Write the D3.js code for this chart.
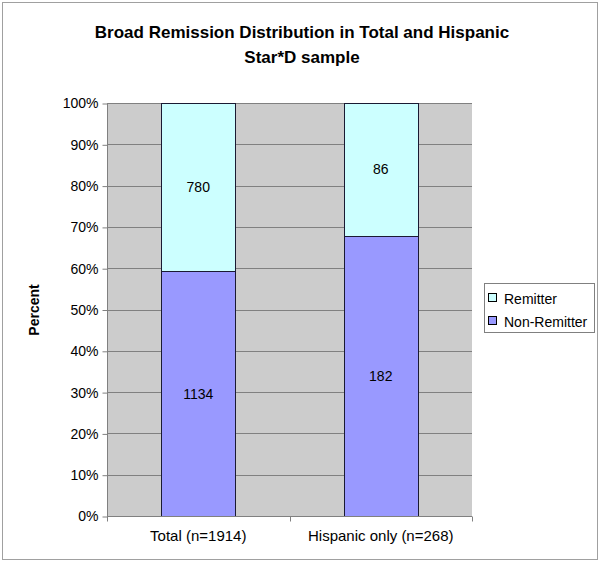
<!DOCTYPE html>
<html><head><meta charset="utf-8">
<script src="https://cdn.jsdelivr.net/npm/d3@7"></script>
<style>body{margin:0;background:#fff}svg{display:block}text{font-family:Arial,"Liberation Sans",sans-serif}</style>
</head><body>
<svg id="c" width="601" height="564"></svg>
<script>
const categories = ["Total (n=1914)", "Hispanic only (n=268)"];
const seriesNames = ["Non-Remitter", "Remitter"];
const nonRemitter = [1134, 182];
const remitter = [780, 86];
const yTicks = [0, 0.1, 0.2, 0.3, 0.4, 0.5, 0.6, 0.7, 0.8, 0.9, 1.0];
const colors = {"Non-Remitter": "#9999ff", "Remitter": "#ccffff"};

const svg = d3.select("#c");
svg.append("rect").attr("x", 2.5).attr("y", 2.5).attr("width", 595).attr("height", 557)
  .attr("fill", "#fff").attr("stroke", "#a0a0a0");

const L = 107, R = 472, T = 103, B = 516;
const x = d3.scaleBand().domain(categories).range([L, R]).paddingInner(0.595).paddingOuter(0.2975);
const y = d3.scaleLinear().domain([0, 1]).range([B, T]);

svg.append("rect").attr("x", L).attr("y", T).attr("width", R - L).attr("height", B - T).attr("fill", "#cccccc");
svg.append("g").selectAll("line").data(yTicks.filter(d => d > 0)).join("line")
  .attr("x1", L).attr("x2", R).attr("y1", d => Math.round(y(d)) + 0.5).attr("y2", d => Math.round(y(d)) + 0.5)
  .attr("stroke", "#808080");

const rows = categories.map((c, i) => ({cat: c, "Non-Remitter": nonRemitter[i], "Remitter": remitter[i]}));
const stack = d3.stack().keys(seriesNames).offset(d3.stackOffsetExpand)(rows);

stack.forEach(s => {
  const g = svg.append("g");
  g.selectAll("rect").data(s).join("rect")
    .attr("x", d => Math.round(x(d.data.cat)) + 0.5)
    .attr("width", Math.round(x.bandwidth()))
    .attr("y", d => Math.round(y(d[1])) + 0.5)
    .attr("height", d => Math.round(y(d[0])) - Math.round(y(d[1])))
    .attr("fill", colors[s.key]).attr("stroke", "#1a1a33").attr("stroke-width", 1);
  g.selectAll("text").data(s).join("text")
    .attr("x", d => x(d.data.cat) + x.bandwidth() / 2)
    .attr("y", d => (y(d[0]) + y(d[1])) / 2 + 5)
    .attr("text-anchor", "middle").attr("font-size", 14).attr("fill", "#000")
    .text(d => d.data[s.key]);
});

const yAxis = d3.axisLeft(y).tickValues(yTicks).tickFormat(d3.format(".0%")).tickSize(5).tickPadding(4);
const ga = svg.append("g").attr("transform", `translate(${L + 0.5},0.5)`).call(yAxis);
ga.selectAll("text").attr("font-size", 14).attr("fill", "#000").attr("font-family", "Arial,'Liberation Sans',sans-serif");
ga.selectAll("line").attr("stroke", "#808080");
ga.select(".domain").attr("stroke", "#808080").attr("d", `M0,${T}V${B}`);

const xAxis = d3.axisBottom(x).tickSize(0).tickPadding(14);
const gx = svg.append("g").attr("transform", `translate(0,${B + 0.5})`).call(xAxis);
gx.selectAll("text").attr("font-size", 15).attr("fill", "#000").attr("font-family", "Arial,'Liberation Sans',sans-serif");
gx.select(".domain").attr("stroke", "#808080").attr("d", `M${L},0H${R}`);
[L, (L + R) / 2, R].forEach(v => gx.append("line").attr("x1", Math.round(v) + 0.5).attr("x2", Math.round(v) + 0.5)
  .attr("y1", 0).attr("y2", 5).attr("stroke", "#808080"));

svg.append("text").attr("x", 302).attr("y", 38).attr("text-anchor", "middle").attr("font-size", 17).attr("font-weight", "bold")
  .text("Broad Remission Distribution in Total and Hispanic");
svg.append("text").attr("x", 302).attr("y", 63).attr("text-anchor", "middle").attr("font-size", 17).attr("font-weight", "bold")
  .text("Star*D sample");

svg.append("text").attr("transform", "translate(39,310) rotate(-90)").attr("text-anchor", "middle")
  .attr("font-size", 14).attr("font-weight", "bold").text("Percent");

const lg = svg.append("g");
lg.append("rect").attr("x", 484.5).attr("y", 283.5).attr("width", 110).attr("height", 49).attr("fill", "#fff").attr("stroke", "#808080");
const legItems = ["Remitter", "Non-Remitter"];
legItems.forEach((k, i) => {
  const yy = 299 + i * 23;
  lg.append("rect").attr("x", 488.5).attr("y", yy - 5.5).attr("width", 8).attr("height", 8)
    .attr("fill", colors[k]).attr("stroke", "#000");
  lg.append("text").attr("x", 504).attr("y", yy + 5).attr("font-size", 14).text(k);
});
</script>
</body></html>
